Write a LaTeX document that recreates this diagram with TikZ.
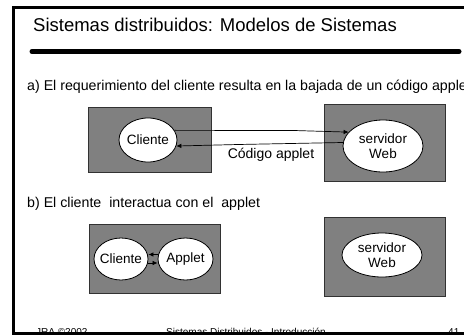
\documentclass[tikz,border=0pt]{standalone}
\usepackage{fontspec}
\setmainfont{Liberation Sans}
\usetikzlibrary{arrows.meta,shapes.geometric}
\definecolor{boxgray}{RGB}{128,128,128}
\definecolor{boxedge}{RGB}{50,50,50}
\tikzset{
  panel/.style={draw=boxedge, line width=0.9pt, fill=boxgray},
  oval/.style={draw=black, line width=0.8pt, fill=white, ellipse, inner sep=0pt},
  lbl/.style={font=\fontsize{13.5}{15}\selectfont, align=center, inner sep=0pt},
  msg/.style={line width=0.7pt, -{Latex[length=5pt,width=4.5pt]}},
  body/.style={font=\fontsize{14.2}{16}\selectfont, anchor=base west, inner sep=0pt},
  foot/.style={font=\fontsize{10}{12}\selectfont, anchor=base west, inner sep=0pt}
}
\begin{document}
\begin{tikzpicture}[x=1pt,y=-1pt]
\useasboundingbox (0,0) rectangle (464,335);
\clip (0,0) rectangle (464,335);
\fill[white] (0,0) rectangle (464,335);
% footer (cut by frame, as in the reference)
\node[foot] (f1) at (36,335) {JRA ©2002};
\node[foot] (f2) at (166,335) {Sistemas Distribuidos - Introducción};
\node[foot] (f3) at (448,335) {41};
% frame
\draw[line width=3pt] (480,7.5) -- (13.5,7.5) -- (13.5,333.5) -- (480,333.5);
% title
\node[font=\fontsize{18.5}{20}\selectfont, anchor=base west, inner sep=0pt] (title) at (33,31) {Sistemas distribuidos: Modelos de Sistemas};
\draw[line width=5pt, line cap=round] (32,51.5) -- (459,51.5);
% a)
\node[body] (ta) at (27,90.5) {a) El requerimiento del cliente resulta en la bajada de un código applet};
\draw[panel] (88,107) rectangle (211,172);
\draw[panel] (324,104) rectangle (445,181);
\node[oval, minimum width=58pt, minimum height=44pt] (c1) at (148,140) {};
\node[lbl] at (c1) {Cliente};
\node[oval, minimum width=80pt, minimum height=52pt] (s1) at (383,146) {};
\node[lbl] at (s1) {servidor\\Web};
\draw[msg] (c1.20) -- (294,130.5) -- (s1.158);
\draw[msg] (s1.175) -- (238,144.5) -- (c1.-12);
\node[lbl, font=\fontsize{14}{16}\selectfont] (code) at (271,155) {Código applet};
% b)
\node[body] (tb) at (27,207) {b) El cliente\ \ interactua con el\ \ applet};
\draw[panel] (89,224) rectangle (220,293);
\draw[panel] (324,217) rectangle (445,296);
\node[oval, minimum width=54pt, minimum height=42pt] (c2) at (121,259) {};
\node[lbl] at (c2) {Cliente};
\node[oval, minimum width=55pt, minimum height=42pt] (ap) at (185.5,259) {};
\node[lbl] at (ap) {Applet};
\node[oval, minimum width=80pt, minimum height=44pt] (s2) at (382,255) {};
\node[lbl] at (s2) {servidor\\Web};
\draw[msg] (ap.west |- 0,254.5) -- (c2.east |- 0,254.5);
\draw[msg] (c2.east |- 0,263) -- (ap.west |- 0,263);
\end{tikzpicture}
\end{document}
